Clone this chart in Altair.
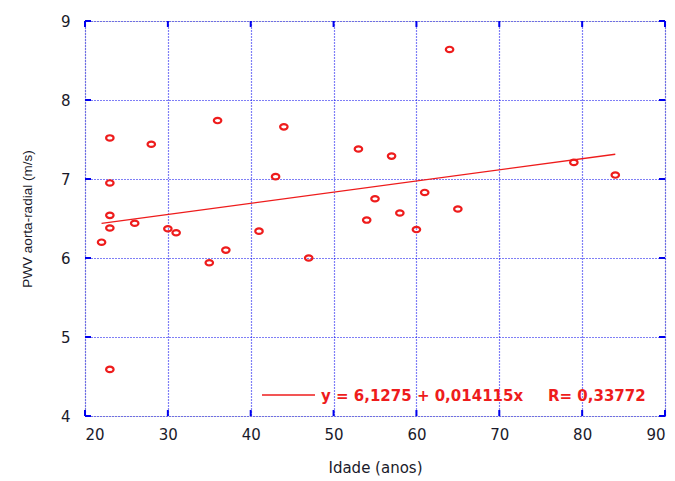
import altair as alt
import pandas as pd

idade = [23, 28, 36, 44, 43, 23, 23, 23, 22, 26, 30, 31, 35, 37, 41, 47,
         53, 57, 64, 54, 55, 58, 60, 61, 65, 79, 84, 23]
pwv = [7.52, 7.44, 7.74, 7.66, 7.03, 6.95, 6.54, 6.38, 6.20, 6.44, 6.37, 6.32, 5.94, 6.10, 6.34, 6.00,
       7.38, 7.29, 8.64, 6.48, 6.75, 6.57, 6.36, 6.83, 6.62, 7.21, 7.05, 4.59]
intercept = 6.1275
slope = 0.014115
fit_x = [22, 84]
x_ticks = [20, 30, 40, 50, 60, 70, 80, 90]
y_ticks = [4, 5, 6, 7, 8, 9]
legend_eq = "y = 6,1275 + 0,014115x"
legend_r = "R= 0,33772"

RED = "#ee1c1c"
BLUE = "#0000ee"
FONT = "DejaVu Sans"
W, H = 580, 395

pts = pd.DataFrame({"x": idade, "y": pwv})
fit = pd.DataFrame({"x": fit_x, "y": [intercept + slope * v for v in fit_x]})
xt = pd.DataFrame({"v": x_ticks})
yt = pd.DataFrame({"v": y_ticks})

xs = alt.Scale(domain=[20, 90], nice=False, zero=False)
ys = alt.Scale(domain=[4, 9], nice=False, zero=False)

xaxis = alt.Axis(values=x_ticks, format="d", grid=True, gridColor=BLUE, gridDash=[1, 2], gridWidth=1.2,
                 domain=False, ticks=False, labelFont=FONT, labelFontSize=15, labelColor="#1a1a2a",
                 labelPadding=11, title="Idade (anos)", titleFont=FONT, titleFontSize=15,
                 titleFontWeight="normal", titleColor="#1a1a2a", titlePadding=18)
yaxis = alt.Axis(values=y_ticks, format="d", grid=True, gridColor=BLUE, gridDash=[1, 2], gridWidth=1.2,
                 domain=False, ticks=False, labelFont=FONT, labelFontSize=15, labelColor="#1a1a2a",
                 labelPadding=15, title="PWV aorta-radial (m/s)", titleFont="Liberation Sans",
                 titleFontSize=13.5, titleFontWeight="normal", titleColor="#1a1a2a", titlePadding=26)

ellipse = "M -1 0 A 1 0.72 0 1 0 1 0 A 1 0.72 0 1 0 -1 0 Z"
base_pts = alt.Chart(pts).mark_point(shape=ellipse, filled=False, color=RED, size=56,
                                     strokeWidth=2.2, opacity=1).encode(
    x=alt.X("x:Q", scale=xs, axis=xaxis),
    y=alt.Y("y:Q", scale=ys, axis=yaxis),
)

line = alt.Chart(fit).mark_line(color=RED, strokeWidth=1.3).encode(
    x=alt.X("x:Q", scale=xs), y=alt.Y("y:Q", scale=ys))

tick_style = dict(color=BLUE, strokeWidth=2)
bt = alt.Chart(xt).mark_rule(**tick_style).encode(x=alt.X("v:Q", scale=xs), y=alt.value(H), y2=alt.value(H - 6))
tt = alt.Chart(xt).mark_rule(**tick_style).encode(x=alt.X("v:Q", scale=xs), y=alt.value(0), y2=alt.value(6))
lt = alt.Chart(yt).mark_rule(**tick_style).encode(y=alt.Y("v:Q", scale=ys), x=alt.value(0), x2=alt.value(6))
rt = alt.Chart(yt).mark_rule(**tick_style).encode(y=alt.Y("v:Q", scale=ys), x=alt.value(W), x2=alt.value(W - 6))

leg_df = pd.DataFrame({"t": [legend_eq]})
leg_line = alt.Chart(leg_df).mark_rule(color=RED, strokeWidth=1.3).encode(
    x=alt.value(177), x2=alt.value(230), y=alt.value(374))
leg_text = alt.Chart(leg_df).mark_text(
    align="left", baseline="middle", font=FONT, fontSize=15, fontWeight="bold", color=RED).encode(
    x=alt.value(236), y=alt.value(375), text="t:N")
leg_r = alt.Chart(pd.DataFrame({"t": [legend_r]})).mark_text(
    align="left", baseline="middle", font=FONT, fontSize=15, fontWeight="bold", color=RED).encode(
    x=alt.value(463), y=alt.value(375), text="t:N")

chart = alt.layer(base_pts, line, bt, tt, lt, rt, leg_line, leg_text, leg_r).properties(
    width=W, height=H,
    autosize=alt.AutoSizeParams(type="none"),
    padding={"left": 77, "top": 13, "right": 2, "bottom": 60},
).configure_view(stroke=BLUE, strokeWidth=2).configure(background="white")

chart.save("out.html", embed_options={"renderer": "svg", "actions": False})
